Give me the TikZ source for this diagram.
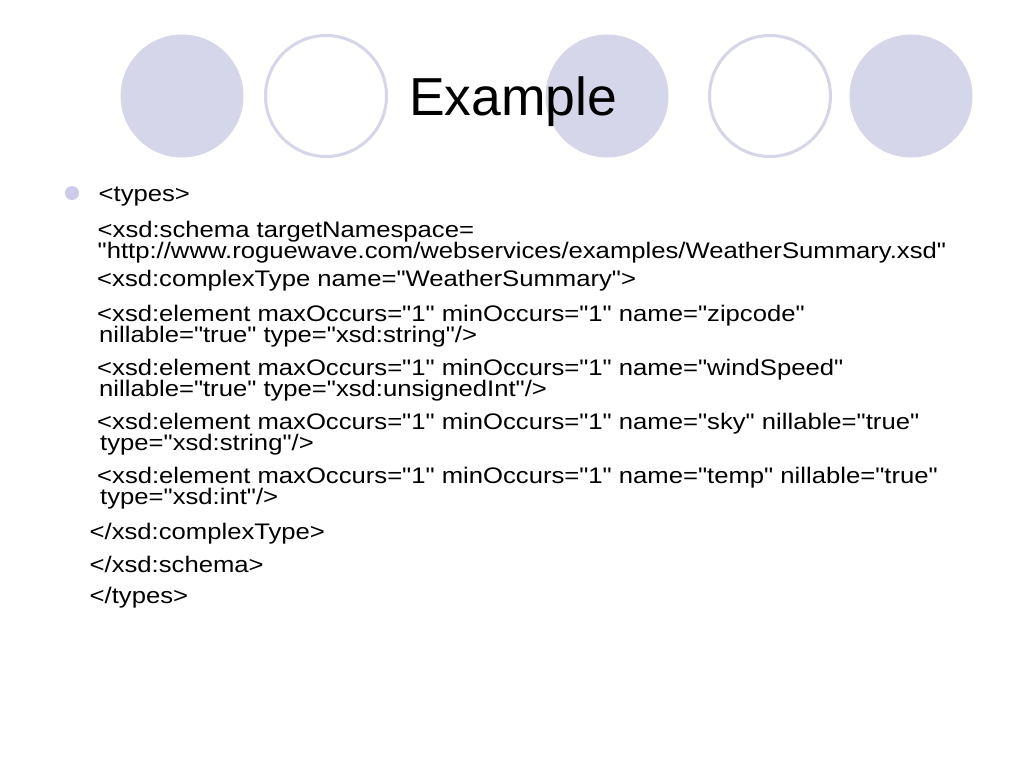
\documentclass[tikz,border=0pt]{standalone}
\usepackage{fontspec}
\setmainfont{Liberation Sans}[Ligatures=TeXOff]
\newfontfamily\bodyfont{Liberation Sans}[Ligatures=TeXOff, FakeStretch=1.14]
\definecolor{lav}{RGB}{214,214,234}
\definecolor{bul}{RGB}{204,204,234}
\begin{document}
\begin{tikzpicture}[x=1pt,y=-1pt,
  txt/.style={anchor=base west, inner sep=0pt, font=\bodyfont\fontsize{22.5}{24}\selectfont},
  ttl/.style={anchor=base west, inner sep=0pt, font=\fontsize{53.5}{54}\selectfont},
  disc/.style={circle, fill=lav, draw=none, minimum size=123pt, inner sep=0pt},
  ring/.style={circle, draw=lav, line width=3pt, fill=white, minimum size=121pt, inner sep=0pt},
  bullet/.style={circle, fill=bul, draw=none, minimum size=14pt, inner sep=0pt}]
\useasboundingbox[fill=white] (0,0) rectangle (1024,768);
\node[disc] (c1) at (182,96) {};
\node[ring] (c2) at (326,96) {};
\node[disc] (c3) at (607,96) {};
\node[ring] (c4) at (770,96) {};
\node[disc] (c5) at (911,96) {};
\node[ttl] (title) at (409,115) {Example};
\node[bullet] (b1) at (72,193) {};
\node[txt] (l1) at (98.5,201) {<types>};
\node[txt] (l2) at (97.5,237) {<xsd:schema targetNamespace=};
\node[txt] (l3) at (97.5,258) {"http://www.roguewave.com/webservices/examples/WeatherSummary.xsd"};
\node[txt] (l4) at (97,286) {<xsd:complexType name="WeatherSummary">};
\node[txt] (l5) at (97,321) {<xsd:element maxOccurs="1" minOccurs="1" name="zipcode"};
\node[txt] (l6) at (99,342) {nillable="true" type="xsd:string"/>};
\node[txt] (l7) at (97,375) {<xsd:element maxOccurs="1" minOccurs="1" name="windSpeed"};
\node[txt] (l8) at (99,396) {nillable="true" type="xsd:unsignedInt"/>};
\node[txt] (l9) at (97,429) {<xsd:element maxOccurs="1" minOccurs="1" name="sky" nillable="true"};
\node[txt] (l10) at (100,450) {type="xsd:string"/>};
\node[txt] (l11) at (97,483) {<xsd:element maxOccurs="1" minOccurs="1" name="temp" nillable="true"};
\node[txt] (l12) at (100,504) {type="xsd:int"/>};
\node[txt] (l13) at (89.5,539) {</xsd:complexType>};
\node[txt] (l14) at (89.5,572) {</xsd:schema>};
\node[txt] (l15) at (89.5,603) {</types>};
\end{tikzpicture}
\end{document}
